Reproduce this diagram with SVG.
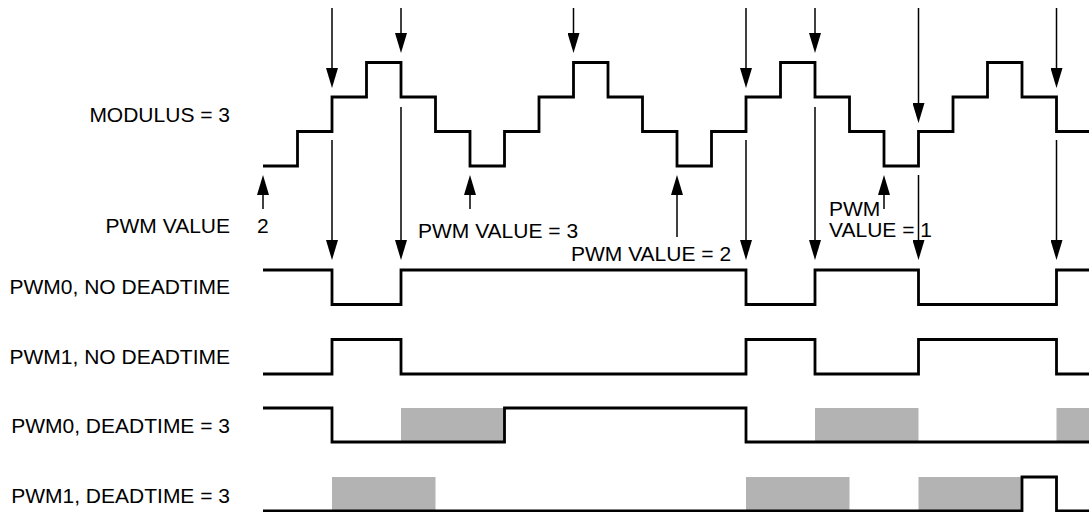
<svg xmlns="http://www.w3.org/2000/svg" width="1089" height="512" viewBox="0 0 1089 512">
<style>
text{font-family:"Liberation Sans",Arial,sans-serif;font-size:21px;fill:#000}
.lbl{text-anchor:end}
.wave{fill:none;stroke:#000;stroke-width:2.8;stroke-linejoin:miter;stroke-linecap:butt}
.dead{fill:#b3b3b3;stroke:none}
.arr{stroke:#000;stroke-width:1.5;fill:none;marker-end:url(#ah)}
</style>
<defs>
<marker id="ah" markerUnits="userSpaceOnUse" markerWidth="20" markerHeight="12" viewBox="0 0 20 12" refX="10" refY="6" orient="auto">
<path d="M0,0 L20,6 L0,12 z" fill="#000"/>
</marker>
</defs>
<rect width="1089" height="512" fill="#fff"/>
<g id="labels">
<text class="lbl" x="230" y="122">MODULUS = 3</text>
<text class="lbl" x="230" y="233">PWM VALUE</text>
<text x="257" y="233">2</text>
<text x="418" y="237.5">PWM VALUE = 3</text>
<text x="571" y="261">PWM VALUE = 2</text>
<text x="829" y="216">PWM</text>
<text x="829" y="237">VALUE = 1</text>
<text class="lbl" x="230" y="294">PWM0, NO DEADTIME</text>
<text class="lbl" x="230" y="364">PWM1, NO DEADTIME</text>
<text class="lbl" x="230" y="433">PWM0, DEADTIME = 3</text>
<text class="lbl" x="230" y="503">PWM1, DEADTIME = 3</text>
</g>
<g id="deadtime">
<rect class="dead" x="401" y="408" width="103.5" height="34"/>
<rect class="dead" x="815" y="408" width="103.5" height="34"/>
<rect class="dead" x="1056.5" y="408" width="32.5" height="34"/>
<rect class="dead" x="332" y="477" width="103.5" height="34"/>
<rect class="dead" x="746" y="477" width="103.5" height="34"/>
<rect class="dead" x="918.5" y="477" width="103.5" height="34"/>
</g>
<g id="modulus">
<path class="wave" d="M263,166 H297.5 V131.5 H332 V97 H366.5 V62.5 H401 V97 H435.5 V131.5 H470 V166 H504.5 V131.5 H539 V97 H573.5 V62.5 H608 V97 H642.5 V131.5 H677 V166 H711.5 V131.5 H746 V97 H780.5 V62.5 H815 V97 H849.5 V131.5 H884 V166 H918.5 V131.5 H953 V97 H987.5 V62.5 H1022 V97 H1056.5 V131.5 H1089"/>
</g>
<g id="pwm0-nodead">
<path class="wave" d="M263,270 H332 V304.5 H401 V270 H746 V304.5 H815 V270 H918.5 V304.5 H1056.5 V270 H1089"/>
</g>
<g id="pwm1-nodead">
<path class="wave" d="M263,374 H332 V339.5 H401 V374 H746 V339.5 H815 V374 H918.5 V339.5 H1056.5 V374 H1089"/>
</g>
<g id="pwm0-dead">
<path class="wave" d="M263,408 H332 V442 H504.5 V408 H746 V442 H1089"/>
</g>
<g id="pwm1-dead">
<path class="wave" d="M263,511 H1022 V477 H1056.5 V511 H1089"/>
</g>
<g id="connectors">
<line class="arr" x1="332" y1="8" x2="332" y2="78"/>
<line class="arr" x1="401" y1="8" x2="401" y2="43"/>
<line class="arr" x1="573.5" y1="8" x2="573.5" y2="43"/>
<line class="arr" x1="746" y1="8" x2="746" y2="78"/>
<line class="arr" x1="815" y1="8" x2="815" y2="43"/>
<line class="arr" x1="918.5" y1="8" x2="918.5" y2="113"/>
<line class="arr" x1="1056.5" y1="8" x2="1056.5" y2="78"/>
<line class="arr" x1="332" y1="140" x2="332" y2="250"/>
<line class="arr" x1="401" y1="107" x2="401" y2="250"/>
<line class="arr" x1="746" y1="140" x2="746" y2="250"/>
<line class="arr" x1="815" y1="107" x2="815" y2="250"/>
<line class="arr" x1="918.5" y1="175" x2="918.5" y2="250"/>
<line class="arr" x1="1056.5" y1="140" x2="1056.5" y2="250"/>
<line class="arr" x1="263" y1="209" x2="263" y2="185"/>
<line class="arr" x1="470" y1="209" x2="470" y2="185"/>
<line class="arr" x1="677" y1="237" x2="677" y2="185"/>
<line class="arr" x1="884" y1="209" x2="884" y2="185"/>
</g>
</svg>
